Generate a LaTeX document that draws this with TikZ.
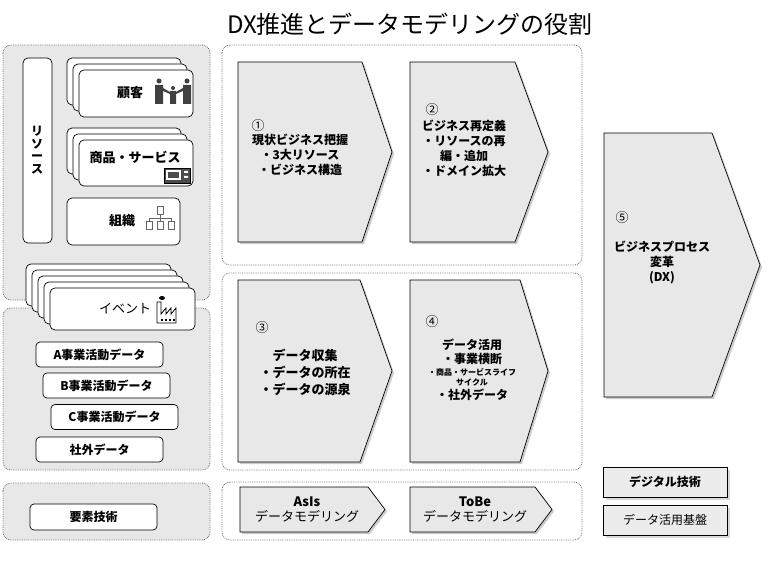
\documentclass[tikz,border=0pt]{standalone}
\usepackage{fontspec}
\setmainfont{Noto Sans CJK JP}
\usetikzlibrary{shadows}
\begin{document}
\begin{tikzpicture}[x=1pt,y=-1pt,
  grp/.style={draw=black!55,densely dotted,line width=0.8pt,rounded corners=8pt,fill=gray!18},
  grpw/.style={draw=black!55,densely dotted,line width=0.8pt,rounded corners=8pt,fill=white},
  card/.style={draw=black,line width=0.7pt,rounded corners=5pt,fill=white},
  pill/.style={draw=black,line width=0.7pt,rounded corners=4pt,fill=white,font=\bfseries\fontsize{12}{14}\selectfont},
  chev/.style={draw=black,line width=0.7pt,fill=gray!18,drop shadow={opacity=0.4,shadow xshift=2pt,shadow yshift=-2pt}},
  ctext/.style={align=center,font=\bfseries\fontsize{12}{15}\selectfont},
  num/.style={font=\fontsize{13}{14}\selectfont},
  lbl/.style={font=\bfseries\fontsize{13}{14}\selectfont},
  sq/.style={draw=black,line width=0.7pt,fill=gray!15,drop shadow={opacity=0.3},font=\fontsize{12}{14}\selectfont}]
\useasboundingbox (0,0) rectangle (768,572);
\node[font=\fontsize{24}{28}\selectfont] (title) at (410,24) {DX推進とデータモデリングの役割};
% groups
\draw[grp] (3,45) rectangle (210,300);
\draw[grp] (3,308) rectangle (210,470);
\draw[grp] (3,483) rectangle (210,540);
\draw[grpw] (222,45) rectangle (582,265);
\draw[grpw] (222,273) rectangle (582,470);
\draw[grpw] (222,482) rectangle (582,540);
% resources
\draw[card] (23,58) rectangle (52,243);
\node[font=\bfseries\fontsize{12}{12.5}\selectfont,align=center] (res) at (37,150) {リ\\ソ\\ー\\ス};
\foreach \d in {12,6}{\draw[card] (79-\d,70-\d) rectangle (193-\d,117-\d);}
\draw[card] (79,70) rectangle (193,117);
\node[lbl] (kokyaku) at (130,93) {顧客};
% family icon
\fill[black!75] (159,81) circle (2.5) (187,81) circle (2.5) (173,88) circle (2);
\fill[black!75] (155,85) rectangle (163,104) (183,85) rectangle (191,104) (170,91) rectangle (176,104);
\fill[black!75] (163,88) -- (170,92) -- (170,94) -- (163,91) -- cycle (183,88) -- (176,92) -- (176,94) -- (183,91) -- cycle;
\foreach \d in {12,6}{\draw[card] (79-\d,140-\d) rectangle (193-\d,186-\d);}
\draw[card] (79,140) rectangle (193,186);
\node[lbl] (shohin) at (135,157) {商品・サービス};
\draw[fill=black!70] (164,168) rectangle (190,183);
\fill[white] (166,170) rectangle (181,180);
\fill[black!70] (168,172) rectangle (179,178);
\fill[white] (184,171) rectangle (188,173) (184,176) rectangle (188,178);
\draw[card] (67,198) rectangle (180,245);
\node[lbl] (soshiki) at (122,221) {組織};
\draw[black!60] (157,206) rectangle (163,214) (160,214) -- (160,218) (149,218) -- (171,218) (149,218)--(149,221) (160,218)--(160,221) (171,218)--(171,221)
  (146,221) rectangle (152,229) (157,221) rectangle (163,229) (168,221) rectangle (174,229);
% events
\foreach \d in {24,18,12,6}{\draw[card] (50-\d,288-\d) rectangle (195-\d,330-\d);}
\draw[card] (50,288) rectangle (195,330);
\node[font=\fontsize{13}{14}\selectfont] (event) at (125,309) {イベント};
\draw[black,thick] (157,323) -- (157,302) -- (161,302) -- (161,314) -- (166,308) -- (166,314) -- (171,308) -- (171,314) -- (176,308) -- (176,323) -- cycle;
\foreach \xx in {161,165,169,173}{\fill (\xx,319) rectangle ++(2,2);}
\fill (162,298) ellipse (3 and 2);
% data
\node[pill,minimum width=127,minimum height=25] (A) at (99.5,354.5) {A事業活動データ};
\node[pill,minimum width=127,minimum height=25] (B) at (106.5,385.5) {B事業活動データ};
\node[pill,minimum width=127,minimum height=25] (C) at (114.5,417) {C事業活動データ};
\node[pill,minimum width=127,minimum height=25] (gai) at (99.5,449.5) {社外データ};
\node[pill,minimum width=127,minimum height=26] (yoso) at (93.5,517) {要素技術};
% chevrons
\draw[chev] (238,62) -- (362,62) -- (392,152) -- (362,242) -- (238,242) -- cycle;
\draw[chev] (410,62) -- (515,62) -- (548,152) -- (515,242) -- (410,242) -- cycle;
\draw[chev] (238,280) -- (360,280) -- (392,371) -- (360,462) -- (238,462) -- cycle;
\draw[chev] (410,280) -- (520,280) -- (548,371) -- (520,462) -- (410,462) -- cycle;
\draw[chev] (604,133) -- (712,133) -- (760,265) -- (712,397) -- (604,397) -- cycle;
\node[num] (n1) at (258,126) {①};
\node[ctext] (t1) at (300,155) {現状ビジネス把握\\・3大リソース\\・ビジネス構造};
\node[num] (n2) at (432,110) {②};
\node[ctext] (t2) at (464,148) {ビジネス再定義\\・リソースの再\\編・追加\\・ドメイン拡大};
\node[num] (n3) at (262,328) {③};
\node[ctext,font=\bfseries\fontsize{13}{17}\selectfont] (t3) at (305,372) {データ収集\\・データの所在\\・データの源泉};
\node[num] (n4) at (432,322) {④};
\node[ctext,font=\bfseries\fontsize{12}{14}\selectfont] (t4) at (472,370) {データ活用\\・事業横断\\[-2pt]{\fontsize{8}{10}\selectfont ・商品・サービスライフ}\\[-4pt]{\fontsize{8}{10}\selectfont サイクル}\\・社外データ};
\node[num] (n5) at (622,218) {⑤};
\node[ctext] (t5) at (662,262) {ビジネスプロセス\\変革\\(DX)};
% modeling arrows
\draw[chev] (240,487) -- (368,487) -- (385,509.5) -- (368,532) -- (240,532) -- cycle;
\draw[chev] (410,487) -- (535,487) -- (552,509.5) -- (535,532) -- (410,532) -- cycle;
\node[align=center,font=\fontsize{13}{15}\selectfont] (asis) at (307,510) {\textbf{AsIs}\\データモデリング};
\node[align=center,font=\fontsize{13}{15}\selectfont] (tobe) at (475,510) {\textbf{ToBe}\\データモデリング};
% tech boxes
\node[sq,minimum width=124,minimum height=30,font=\bfseries\fontsize{12}{14}\selectfont] (dig) at (665,482) {デジタル技術};
\node[sq,minimum width=124,minimum height=30] (kiban) at (665,520) {データ活用基盤};
\end{tikzpicture}
\end{document}
